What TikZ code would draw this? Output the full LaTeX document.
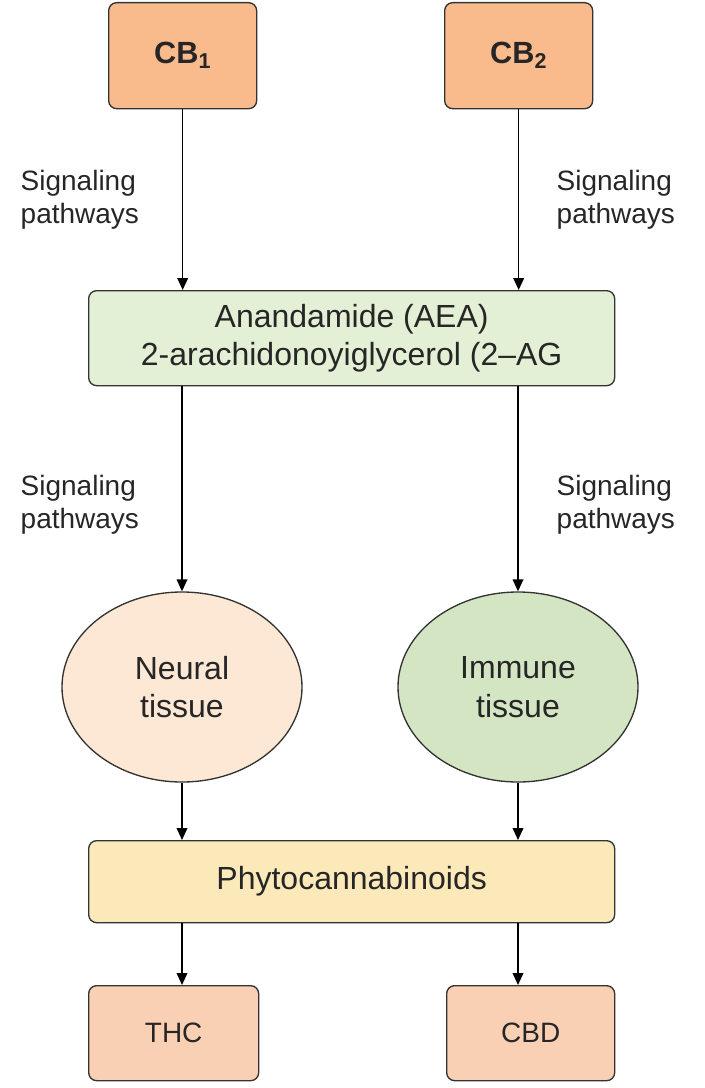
\documentclass[tikz,border=0pt]{standalone}
\usepackage{fontspec}
\setmainfont{Liberation Sans}
\usetikzlibrary{arrows.meta,shapes.geometric}
\definecolor{cbor}{HTML}{F9BA8C}
\definecolor{grbox}{HTML}{E4F0D5}
\definecolor{neur}{HTML}{FCE8D4}
\definecolor{immu}{HTML}{D3E5C3}
\definecolor{phyt}{HTML}{FCE9BA}
\definecolor{thcc}{HTML}{FAD0B4}
\tikzset{
 box/.style={draw=black!80,line width=1pt,rounded corners=6pt,inner sep=0pt,anchor=north west},
 arr/.style={-{Triangle[length=9pt,width=8pt]},line width=1.2pt},
 lab/.style={font=\fontsize{21}{25}\selectfont,align=left,text=black!85},
 big/.style={font=\fontsize{24}{29}\selectfont,text=black!85}
}
\begin{document}
\begin{tikzpicture}[x=0.75pt,y=-0.75pt]
\useasboundingbox (0,0) rectangle (704,1088);
\node[box,fill=cbor,minimum width=148*0.75pt,minimum height=106*0.75pt] (cb1) at (108,2) {};
\node[big,font=\bfseries\fontsize{23}{28}\selectfont] at (cb1.center) {CB$_\mathbf{1}$};
\node[box,fill=cbor,minimum width=148*0.75pt,minimum height=106*0.75pt] (cb2) at (444,2) {};
\node[big,font=\bfseries\fontsize{23}{28}\selectfont] at (cb2.center) {CB$_\mathbf{2}$};
\node[box,fill=grbox,minimum width=526*0.75pt,minimum height=95*0.75pt] (en) at (88,290) {};
\node[big,align=center] at (en.center) {Anandamide (AEA)\\2-arachidonoyiglycerol (2–AG};
\node[ellipse,draw=black!80,line width=1pt,fill=neur,minimum width=240*0.75pt,minimum height=190*0.75pt,big,align=center] (ne) at (182,687) {Neural\\tissue};
\node[ellipse,draw=black!80,line width=1pt,fill=immu,minimum width=240*0.75pt,minimum height=190*0.75pt,big,align=center] (im) at (518,687) {Immune\\tissue};
\node[box,fill=phyt,minimum width=526*0.75pt,minimum height=82*0.75pt] (ph) at (88,840) {};
\node[big] at (ph.center) {Phytocannabinoids};
\node[box,fill=thcc,minimum width=170*0.75pt,minimum height=95*0.75pt] (thc) at (88,985) {};
\node[big,font=\fontsize{21}{25}\selectfont] at (thc.center) {THC};
\node[box,fill=thcc,minimum width=168*0.75pt,minimum height=95*0.75pt] (cbd) at (446,985) {};
\node[big,font=\fontsize{21}{25}\selectfont] at (cbd.center) {CBD};
\draw[arr] (cb1.south) -- (cb1.south |- en.north);
\draw[arr] (cb2.south) -- (cb2.south |- en.north);
\draw[arr] (ne.north |- en.south) -- (ne.north);
\draw[arr] (im.north |- en.south) -- (im.north);
\draw[arr] (ne.south) -- (ne.south |- ph.north);
\draw[arr] (im.south) -- (im.south |- ph.north);
\draw[arr] (ph.south -| ne.south) -- (ne.south |- thc.north);
\draw[arr] (ph.south -| im.south) -- (im.south |- cbd.north);
\node[lab,anchor=west] (l1) at (16,200) {Signaling\\pathways};
\node[lab,anchor=west] (l2) at (552,200) {Signaling\\pathways};
\node[lab,anchor=west] (l3) at (16,505) {Signaling\\pathways};
\node[lab,anchor=west] (l4) at (552,505) {Signaling\\pathways};
\end{tikzpicture}
\end{document}
